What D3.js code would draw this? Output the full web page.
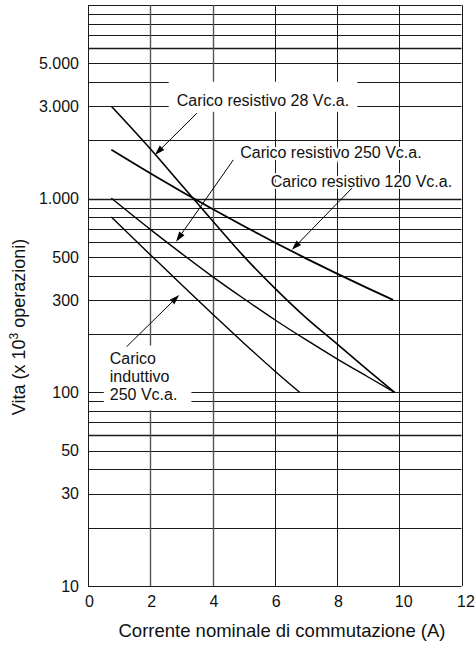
<!DOCTYPE html>
<html>
<head>
<meta charset="utf-8">
<script src="https://cdn.jsdelivr.net/npm/d3@7"></script>
<style>
  body { margin: 0; background: #fff; }
  svg { display: block; }
  text { font-family: "Liberation Sans", Arial, Helvetica, sans-serif; fill: #111; }
</style>
</head>
<body>
<div id="chart"></div>
<script>
// axis ticks
const xTicks = [0, 2, 4, 6, 8, 10, 12];
const yTickLabels = [10, 30, 50, 100, 300, 500, 1000, 3000, 5000];
const yGridThick = [60, 1000, 6000];

// curves (x = A, y = operazioni x 10^3)
const res28X = [0.75, 2, 3, 4, 5, 6, 7, 8, 9, 9.85];
const res28Y = [3000, 1810, 1180, 770, 505, 345, 243, 178, 130, 100];
const res120X = [0.75, 2, 3, 4, 5, 6, 7, 8, 9, 9.8];
const res120Y = [1790, 1353, 1090, 884, 722, 594, 492, 410, 344, 300];
const res250X = [0.75, 2, 3, 4, 5, 6, 7, 8, 9, 9.85];
const res250Y = [1005, 694, 522, 396, 305, 237, 187, 149, 120, 100];
const ind250X = [0.75, 2, 3, 4, 5, 6, 6.8];
const ind250Y = [805, 514, 360, 254, 180, 129, 100];

// annotations: label anchor and arrow in data units
const labelTexts = [['Carico resistivo 28 Vc.a.'], ['Carico resistivo 250 Vc.a.'],
  ['Carico resistivo 120 Vc.a.'], ['Carico', 'induttivo', '250 Vc.a.']];
const labelX = [2.85, 4.89, 5.87, 0.7];
const labelY = [3000, 1620, 1155, 140];
const arrowFrom = [[3.5, 2765], [4.67, 1586], [8.48, 1133], [1.24, 172]];
const arrowTo = [[2.15, 1683], [2.83, 600], [6.55, 544], [2.93, 318]];

const width = 475;
const height = 652;

const x = d3.scaleLinear().domain([0, 12]).range([88, 461.5]);
const y = d3.scaleLog().domain([10, 10000]).range([586, 5]);

const svg = d3.select('#chart')
  .append('svg')
  .attr('width', width)
  .attr('height', height);

// grid
const grid = svg.append('g').attr('stroke', '#1a1a1a').attr('fill', 'none');

grid.selectAll('.hline')
  .data(y.ticks())
  .enter()
  .append('line')
  .attr('x1', x(0))
  .attr('x2', x(12))
  .attr('y1', d => Math.round(y(d)) + 0.5)
  .attr('y2', d => Math.round(y(d)) + 0.5)
  .attr('stroke-width', d => (yGridThick.includes(d) ? 1.5 : 1));

grid.selectAll('.vline')
  .data(xTicks)
  .enter()
  .append('line')
  .attr('x1', d => Math.round(x(d)) + 0.5)
  .attr('x2', d => Math.round(x(d)) + 0.5)
  .attr('y1', y(10000))
  .attr('y2', y(10))
  .attr('stroke-width', d => (d === 2 || d === 4 ? 1.4 : 1))
  .attr('stroke', d => (d === 2 || d === 4 ? '#555' : '#1a1a1a'));

// y tick labels, italian thousands separator
const itFormat = d3.formatLocale({ decimal: ',', thousands: '.', grouping: [3], currency: ['', ''] }).format(',');

svg.append('g')
  .attr('transform', `translate(${x(0)},0)`)
  .call(d3.axisLeft(y).tickValues(yTickLabels).tickFormat(itFormat).tickSize(0).tickPadding(9))
  .call(g => g.select('.domain').remove())
  .selectAll('text')
  .attr('font-family', '"Liberation Sans", Arial, sans-serif')
  .attr('font-size', 16)
  .attr('fill', '#111');

svg.append('g')
  .attr('transform', `translate(0,${y(10)})`)
  .call(d3.axisBottom(x).tickValues(xTicks).tickSize(0).tickPadding(10))
  .call(g => g.select('.domain').remove())
  .selectAll('text')
  .attr('font-family', '"Liberation Sans", Arial, sans-serif')
  .attr('font-size', 16)
  .attr('fill', '#111')
  .attr('dx', d => (d >= 10 ? 4 : 1));

// axis titles
svg.append('text')
  .attr('x', 282)
  .attr('y', 637)
  .attr('text-anchor', 'middle')
  .attr('font-size', 18.5)
  .text('Corrente nominale di commutazione (A)');

const yTitle = svg.append('text')
  .attr('transform', 'translate(25,327) rotate(-90)')
  .attr('text-anchor', 'middle')
  .attr('font-size', 18);
yTitle.append('tspan').text('Vita (x 10');
yTitle.append('tspan').attr('font-size', 12).attr('dy', -7).text('3');
yTitle.append('tspan').attr('dy', 7).text(' operazioni)');

// curves
const line = d3.line()
  .curve(d3.curveMonotoneX)
  .x(d => x(d[0]))
  .y(d => y(d[1]));

const series = [
  [res28X, res28Y, 1.6],
  [res120X, res120Y, 1.8],
  [res250X, res250Y, 1.4],
  [ind250X, ind250Y, 1.4],
];

series.forEach(([xs, ys, w]) => {
  svg.append('path')
    .datum(xs.map((v, i) => [v, ys[i]]))
    .attr('fill', 'none')
    .attr('stroke', '#000')
    .attr('stroke-width', w)
    .attr('d', line);
});

// labels
const boxPad = [[8, 13, 8, 6], null, null, [6, 7, 14, 11]]; // left, top, right, bottom

labelTexts.forEach((lines, i) => {
  const g = svg.append('g');
  const t = g.append('text')
    .attr('x', x(labelX[i]))
    .attr('y', y(labelY[i]))
    .attr('font-size', 16);
  lines.forEach((s, j) => {
    t.append('tspan')
      .attr('x', x(labelX[i]))
      .attr('dy', j === 0 ? 0 : 17.8)
      .text(s);
  });
  if (boxPad[i]) {
    const b = t.node().getBBox();
    const p = boxPad[i];
    const top = y(labelY[i]) - 11.5;
    g.insert('rect', 'text')
      .attr('x', b.x - p[0])
      .attr('y', top - p[1])
      .attr('width', b.width + p[0] + p[2])
      .attr('height', (b.y + b.height - top) + p[1] + p[3] - 3.5)
      .attr('fill', '#fff');
  } else {
    t.attr('stroke', '#fff')
      .attr('stroke-width', 4)
      .attr('paint-order', 'stroke');
  }
});

// arrows
arrowFrom.forEach((f, i) => {
  const x1 = x(f[0]);
  const y1 = y(f[1]);
  const x2 = x(arrowTo[i][0]);
  const y2 = y(arrowTo[i][1]);
  const a = Math.atan2(y2 - y1, x2 - x1);
  const len = 10;
  const hw = 3.2;
  const bx = x2 - len * Math.cos(a);
  const by = y2 - len * Math.sin(a);
  svg.append('line')
    .attr('x1', x1).attr('y1', y1)
    .attr('x2', bx).attr('y2', by)
    .attr('stroke', '#000')
    .attr('stroke-width', 1);
  svg.append('path')
    .attr('d', `M${x2},${y2}L${bx - hw * Math.sin(a)},${by + hw * Math.cos(a)}L${bx + hw * Math.sin(a)},${by - hw * Math.cos(a)}Z`)
    .attr('fill', '#000');
});
</script>
</body>
</html>
